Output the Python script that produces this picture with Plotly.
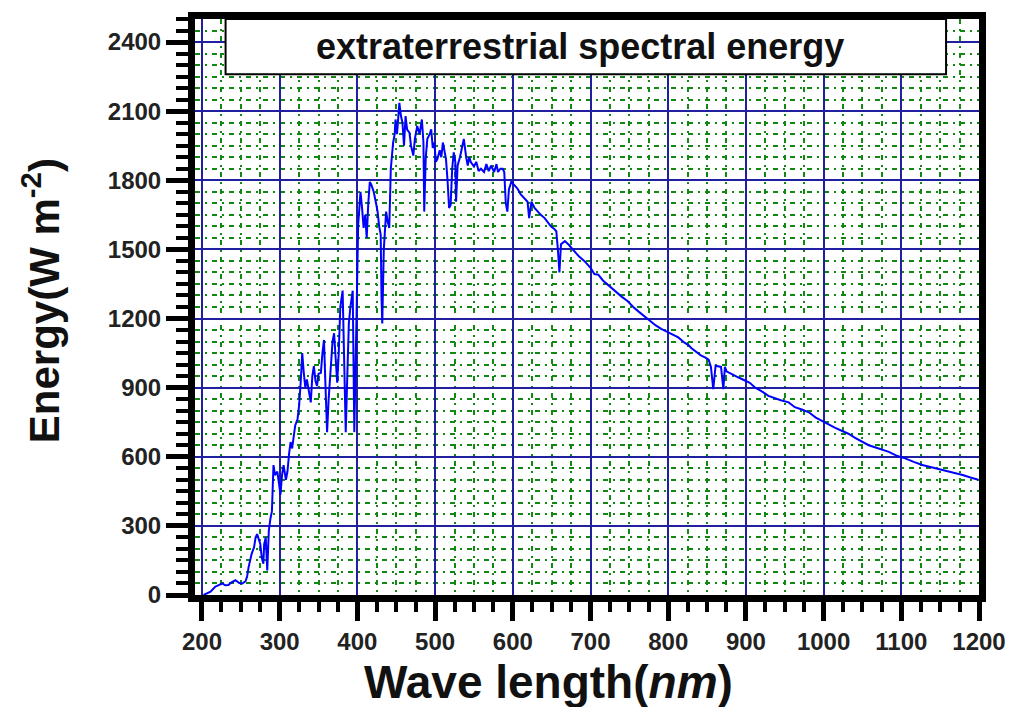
import plotly.graph_objects as go

wavelength = [202, 207, 211, 217, 222, 226, 230, 234, 238, 243, 248, 252, 256, 258, 260, 264, 267, 269, 271, 273,
              275, 277, 279, 280, 282, 284, 286, 288, 290, 292, 294, 297, 299, 301, 303, 305, 308, 310, 312, 314,
              316, 318, 320, 323, 325, 327, 329, 331, 333, 335, 338, 340, 342, 344, 346, 348, 350, 353, 355, 357,
              359, 361, 363, 366, 368, 370, 372, 374, 376, 378, 381, 383, 385, 387, 389, 391, 394, 396, 398, 399,
              401, 403, 404, 406, 408, 410, 412, 414, 416, 418, 421, 424, 426, 428, 430, 431, 432, 434, 437, 439,
              441, 443, 446, 448, 449, 451, 454, 456, 458, 460, 462, 464, 467, 469, 472, 474, 477, 480, 483, 485,
              486, 488, 490, 493, 495, 497, 499, 501, 503, 506, 508, 510, 512, 514, 516, 518, 520, 522, 524, 526,
              527, 529, 532, 535, 537, 540, 542, 544, 546, 550, 553, 556, 559, 563, 566, 569, 572, 576, 579, 581,
              584, 587, 589, 591, 593, 595, 598, 602, 606, 610, 615, 619, 621, 624, 628, 632, 636, 641, 645, 649,
              653, 656, 658, 660, 662, 667, 672, 679, 685, 692, 700, 705, 710, 716, 721, 727, 733, 740, 748, 755,
              762, 770, 777, 784, 791, 800, 807, 813, 821, 826, 830, 836, 842, 848, 852, 855, 858, 861, 865, 868,
              871, 873, 875, 882, 890, 898, 905, 912, 920, 929, 936, 945, 955, 963, 972, 981, 990, 998, 1006, 1015,
              1024, 1032, 1040, 1049, 1058, 1067, 1076, 1084, 1095, 1105, 1116, 1127, 1140, 1153, 1166, 1179, 1189, 1199]

energy = [0, 8, 14, 36, 45, 50, 42, 43, 55, 64, 52, 50, 60, 79, 121, 180, 207, 250, 264, 240,
          222, 160, 136, 220, 250, 107, 279, 330, 364, 564, 520, 536, 480, 436, 520, 564, 500, 536, 610, 664,
          636, 700, 736, 764, 822, 921, 1050, 964, 900, 936, 880, 836, 950, 993, 930, 907, 960, 964, 1050, 1107,
          900, 707, 850, 993, 1100, 1136, 1000, 921, 1050, 1250, 1321, 1000, 707, 950, 1179, 1250, 1321, 707, 1000, 1236,
          1607, 1700, 1750, 1680, 1593, 1650, 1550, 1700, 1793, 1780, 1750, 1700, 1664, 1600, 1564, 1300, 1179, 1500, 1664, 1620,
          1593, 1850, 1964, 2000, 2064, 2000, 2136, 2080, 2050, 1950, 2079, 2020, 2007, 1950, 1907, 1980, 2036, 2000, 2064, 1964,
          1664, 1900, 1980, 2000, 2021, 1940, 1964, 1880, 1893, 1930, 1900, 1964, 1920, 1893, 1800, 1680, 1693, 1850, 1921, 1880,
          1707, 1864, 1900, 1950, 1979, 1900, 1864, 1900, 1879, 1860, 1880, 1840, 1850, 1836, 1870, 1840, 1864, 1836, 1870, 1836,
          1850, 1850, 1836, 1700, 1664, 1760, 1793, 1779, 1764, 1740, 1721, 1707, 1636, 1707, 1680, 1664, 1650, 1636, 1620, 1600,
          1590, 1579, 1500, 1400, 1522, 1536, 1520, 1493, 1470, 1450, 1420, 1393, 1390, 1365, 1350, 1336, 1315, 1295, 1275, 1250,
          1230, 1207, 1190, 1170, 1155, 1140, 1130, 1118, 1095, 1085, 1071, 1055, 1040, 1030, 1021, 990, 893, 995, 993, 990,
          893, 990, 971, 958, 945, 932, 921, 900, 885, 864, 855, 845, 836, 815, 805, 793, 770, 755, 743, 725,
          712, 700, 683, 667, 650, 640, 630, 621, 603, 593, 578, 564, 553, 543, 532, 521, 510, 500]

x_ticks = [200, 300, 400, 500, 600, 700, 800, 900, 1000, 1100, 1200]
y_ticks = [0, 300, 600, 900, 1200, 1500, 1800, 2100, 2400]

title_text = "extraterrestrial spectral energy"
x_title = "Wave length(<i>nm</i>)"
y_title = "Energy(W m<sup>-2</sup>)"

fig = go.Figure()
fig.add_trace(go.Scatter(x=wavelength, y=energy, mode="lines",
                         line=dict(color="#0000ff", width=2), showlegend=False))

axis_common = dict(
    showline=True, linecolor="black", linewidth=7, mirror=True,
    ticks="outside", tickcolor="black", tickwidth=5,
    showgrid=True, gridcolor="#1f1fa0", gridwidth=2,
    zeroline=False,
    tickfont=dict(family="Arial", size=24, color="#222222", weight="bold"),
)

fig.update_xaxes(range=[191, 1200], tickvals=x_ticks, ticklen=19,
                 minor=dict(dtick=25, tick0=200, ticks="outside", ticklen=10, tickwidth=4, tickcolor="black",
                            showgrid=True, gridcolor="#118811", gridwidth=1.6, griddash="5px,5px,2px,5px"),
                 **axis_common)
fig.update_yaxes(range=[0, 2500], tickvals=y_ticks, ticklen=22,
                 minor=dict(dtick=50, tick0=0, ticks="outside", ticklen=12, tickwidth=4, tickcolor="black",
                            showgrid=True, gridcolor="#118811", gridwidth=1.6, griddash="5px,5px,2px,5px"),
                 **axis_common)

fig.add_shape(type="rect", xref="paper", yref="paper", x0=0.039, x1=0.958, y0=0.904, y1=1.0,
              fillcolor="white", line=dict(color="black", width=2), layer="above")

fig.add_annotation(text=title_text, xref="paper", yref="paper", x=0.4915, y=0.952,
                   showarrow=False, xanchor="center", yanchor="middle",
                   font=dict(family="Arial", size=36, color="#111111", weight="bold"))
fig.add_annotation(text=x_title, xref="paper", yref="paper", x=0.4505, y=-0.151,
                   showarrow=False, xanchor="center", yanchor="middle",
                   font=dict(family="Arial", size=46, color="#111111", weight="bold"))
fig.add_annotation(text=y_title, xref="paper", yref="paper", x=-0.197, y=0.511, textangle=-90,
                   showarrow=False, xanchor="center", yanchor="middle",
                   font=dict(family="Arial", size=42, color="#111111", weight="bold"))

fig.update_layout(width=1018, height=707, margin=dict(l=195, r=35, t=13, b=112),
                  plot_bgcolor="white", paper_bgcolor="white")

fig.write_html("out.html")
